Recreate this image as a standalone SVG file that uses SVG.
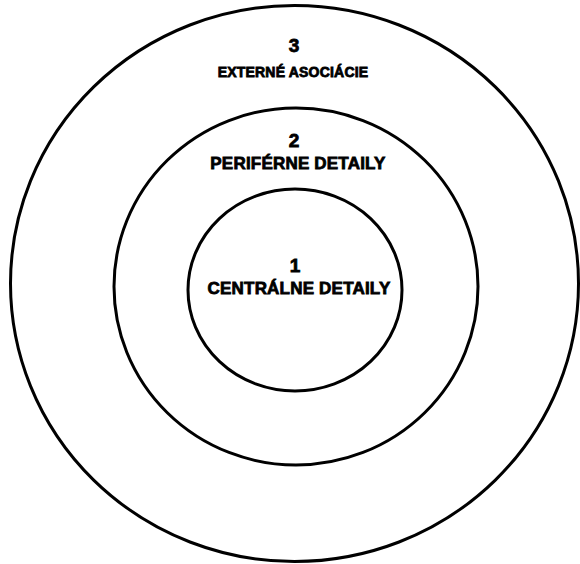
<svg xmlns="http://www.w3.org/2000/svg" width="580" height="564" viewBox="0 0 580 564">
<style>
.ring{fill:none;stroke:#000;stroke-width:3}
.num{font-family:"Liberation Sans",Arial,sans-serif;font-weight:bold;font-size:19px;text-anchor:middle;fill:#000;stroke:#000;stroke-width:0.8}
.lbl{font-family:"Liberation Sans",Arial,sans-serif;font-weight:bold;font-size:17px;letter-spacing:0.2px;text-anchor:middle;fill:#000;stroke:#000;stroke-width:0.8}
.lbls{font-size:14px}
</style>
<rect width="580" height="564" fill="#fff"/>
<g id="outer">
<ellipse class="ring" cx="294.5" cy="283.5" rx="284" ry="278"/>
<text class="num" x="294" y="52">3</text>
<text class="lbl lbls" x="293" y="77">EXTERNÉ ASOCIÁCIE</text>
</g>
<g id="middle">
<ellipse class="ring" cx="296" cy="286.5" rx="182" ry="178.5"/>
<text class="num" x="294" y="147">2</text>
<text class="lbl" x="298" y="169">PERIFÉRNE DETAILY</text>
</g>
<g id="inner">
<ellipse class="ring" cx="295" cy="290" rx="107" ry="101"/>
<text class="num" x="295" y="272">1</text>
<text class="lbl" x="299" y="294">CENTRÁLNE DETAILY</text>
</g>
<g id="connectors"/>
</svg>
